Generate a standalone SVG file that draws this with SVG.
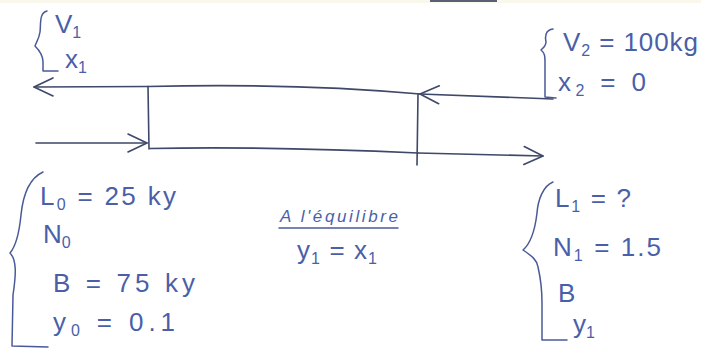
<svg xmlns="http://www.w3.org/2000/svg" width="701" height="352" viewBox="0 0 701 352">
<defs>
<style>
.ink{fill:none;stroke:#3e4868;stroke-width:1.6;stroke-linecap:round;stroke-linejoin:round}
.brace{fill:none;stroke:#4a5a96;stroke-width:1.5;stroke-linecap:round;stroke-linejoin:round}
.t{font-family:"Liberation Sans",Arial,sans-serif;font-size:26px;fill:#4a5fa8}
.s{font-size:16px}
.sm{font-family:"Liberation Sans",Arial,sans-serif;font-size:17px;fill:#4a5fa8;font-style:italic}
</style>
<marker id="chev" viewBox="0 0 22 22" refX="21" refY="11" markerWidth="22" markerHeight="22" markerUnits="userSpaceOnUse" orient="auto">
<path d="M2,2 L21,11 L2,20" fill="none" stroke="#3e4868" stroke-width="1.6" stroke-linecap="round" stroke-linejoin="round"/>
</marker>
</defs>
<rect x="0" y="0" width="701" height="352" fill="#ffffff"/>
<rect x="0" y="0" width="701" height="3" fill="#faf7ec"/>
<rect x="430" y="0" width="67" height="2" fill="#5b6072"/>

<g id="box">
<path class="ink" d="M148,86.5 C250,84 330,86 420,94"/>
<path class="ink" d="M150,148.5 C250,146.5 330,149 418,153"/>
<path class="ink" d="M148,86.5 L149,149"/>
<path class="ink" d="M418,94 L417,165"/>
</g>

<g id="connectors">
<path class="ink" d="M148,86.5 L34,87" marker-end="url(#chev)"/>
<path class="ink" d="M553,99 L420,94" marker-end="url(#chev)"/>
<path class="ink" d="M36,143 L147,143" marker-end="url(#chev)"/>
<path class="ink" d="M418,153 L543,156" marker-end="url(#chev)"/>
</g>

<g id="stream-out-top">
<path class="brace" d="M47,11 C39,13 41,24 40,32 C39,39 36,43 35,46 C39,50 43,55 43,62 L43,71 L58,71"/>
<text class="t" x="55" y="33">V<tspan class="s" dy="5">1</tspan></text>
<text class="t" x="65" y="68">x<tspan class="s" dy="5">1</tspan></text>
</g>

<g id="stream-in-top">
<path class="brace" d="M553,29 C545,30 545,37 546,42 C546,46 543,48 541,50 C545,53 545,57 545,62 L545,97 L556,98"/>
<text class="t" x="563" y="51" textLength="135" lengthAdjust="spacing">V<tspan class="s" dy="5">2</tspan><tspan dy="-5"> = 100kg</tspan></text>
<text class="t" x="558" y="91" textLength="88" lengthAdjust="spacing">x<tspan class="s" dy="5">2</tspan><tspan dy="-5"> = 0</tspan></text>
</g>

<g id="stream-in-bottom">
<path class="brace" d="M43,172 C30,178 23,195 21,215 C19,235 16,246 10,253 C17,260 16,275 13,295 L12,346 L48,347"/>
<text class="t" x="40" y="205" textLength="136" lengthAdjust="spacing">L<tspan class="s" dy="5">0</tspan><tspan dy="-5"> = 25 ky</tspan></text>
<text class="t" x="43" y="243">N<tspan class="s" dy="5">0</tspan></text>
<text class="t" x="53" y="292" textLength="142" lengthAdjust="spacing">B = 75 ky</text>
<text class="t" x="53" y="331" textLength="122" lengthAdjust="spacing">y<tspan class="s" dy="5">0</tspan><tspan dy="-5"> = 0.1</tspan></text>
</g>

<g id="equilibrium">
<text class="sm" x="280" y="222" textLength="118" lengthAdjust="spacing">A l'équilibre</text>
<path class="brace" d="M279,228 L398,228"/>
<text class="t" x="297" y="259" textLength="80" lengthAdjust="spacing">y<tspan class="s" dy="5">1</tspan><tspan dy="-5"> = x</tspan><tspan class="s" dy="5">1</tspan></text>
</g>

<g id="stream-out-bottom">
<path class="brace" d="M553,182 C543,186 538,200 537,213 C535,230 530,244 523,250 C532,256 537,260 538,267 C541,280 542,292 542,303 L542,340 L567,340"/>
<text class="t" x="555" y="207" textLength="76" lengthAdjust="spacing">L<tspan class="s" dy="5">1</tspan><tspan dy="-5"> = ?</tspan></text>
<text class="t" x="553" y="256" textLength="108" lengthAdjust="spacing">N<tspan class="s" dy="5">1</tspan><tspan dy="-5"> = 1.5</tspan></text>
<text class="t" x="558" y="302">B</text>
<text class="t" x="573" y="333">y<tspan class="s" dy="5">1</tspan></text>
</g>
</svg>
